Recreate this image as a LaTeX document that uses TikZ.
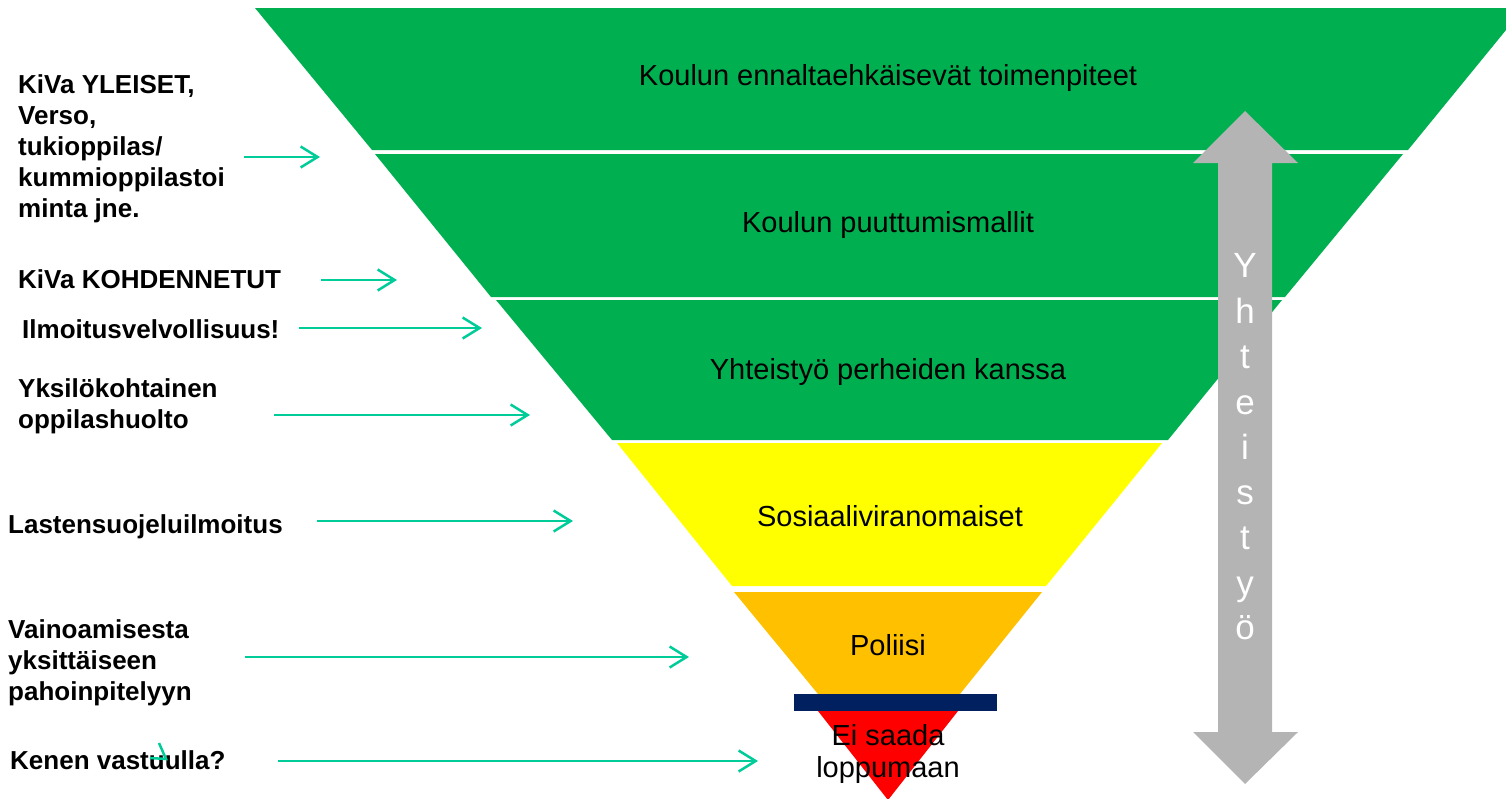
\documentclass[tikz,border=0pt]{standalone}
\usepackage{fontspec}
\setmainfont{Liberation Sans}
\usetikzlibrary{arrows.meta}
\definecolor{bandgreen}{RGB}{0,176,80}
\definecolor{bandyellow}{RGB}{255,255,0}
\definecolor{bandorange}{RGB}{255,192,0}
\definecolor{bandred}{RGB}{255,0,0}
\definecolor{barnavy}{RGB}{0,32,96}
\definecolor{arrgray}{RGB}{180,180,180}
\definecolor{arrteal}{RGB}{0,204,153}
\tikzset{
  bandtext/.style={font=\fontsize{29}{32}\selectfont, text=black, align=center, inner sep=0pt},
  sidetext/.style={font=\fontsize{26}{31}\bfseries\selectfont, text=black, align=left, anchor=west, inner sep=0pt},
  pointer/.style={draw=arrteal, line width=2.5pt, -{Straight Barb[length=17pt,width=21pt,line width=2.5pt]}},
  stray/.style={draw=arrteal, line width=2.5pt},
  vlet/.style={font=\fontsize{35}{36}\selectfont, text=white, inner sep=0pt}
}
\begin{document}
\begin{tikzpicture}[x=1pt,y=-1pt]
\useasboundingbox (0,0) rectangle (1506,798);
\begin{scope}
\clip (0,0) rectangle (1506,798);
% bands
\fill[bandgreen] (255,8) -- (1524,8) -- (1408,150) -- (372,150) -- cycle;
\fill[bandgreen] (375,154) -- (1403,154) -- (1285,297) -- (491,297) -- cycle;
\fill[bandgreen] (496,300) -- (1282,300) -- (1168,440) -- (612,440) -- cycle;
\fill[bandyellow] (617,443) -- (1162,443) -- (1046,586) -- (732,586) -- cycle;
\fill[bandorange] (734,592) -- (1042,592) -- (960,694) -- (818,694) -- cycle;
\fill[bandred] (818,711) -- (958,711) -- (888,800) -- cycle;
\fill[barnavy] (794,694) rectangle (997,711);
\end{scope}
% band labels
\node[bandtext] (b1) at (888,78) {Koulun ennaltaehkäisevät toimenpiteet};
\node[bandtext] (b2) at (888,225) {Koulun puuttumismallit};
\node[bandtext] (b3) at (888,372) {Yhteistyö perheiden kanssa};
\node[bandtext] (b4) at (890,516) {Sosiaaliviranomaiset};
\node[bandtext] (b5) at (888,645) {Poliisi};
\node[bandtext] (b6) at (888,754) {Ei saada\\loppumaan};
% vertical double arrow
\fill[arrgray] (1245,111) -- (1298,163) -- (1272,163) -- (1272,732) -- (1298,732)
  -- (1245,784) -- (1193,732) -- (1218,732) -- (1218,163) -- (1193,163) -- cycle;
\foreach \l/\yy in {Y/270,h/316,t/361,e/407,i/452,s/497,t/542,y/588,ö/632}{
  \node[vlet] at (1245,\yy) {\strut\l};
}
% side labels
\node[sidetext] (s1) at (18,149) {KiVa YLEISET,\\Verso,\\tukioppilas/\\kummioppilastoi\\minta jne.};
\node[sidetext] (s2) at (18,279) {KiVa KOHDENNETUT};
\node[sidetext] (s3) at (22,329) {Ilmoitusvelvollisuus!};
\node[sidetext] (s4) at (18,406) {Yksilökohtainen\\oppilashuolto};
\node[sidetext] (s5) at (8,527) {Lastensuojeluilmoitus};
\node[sidetext] (s6) at (8,663) {Vainoamisesta\\yksittäiseen\\pahoinpitelyyn};
\node[sidetext] (s7) at (10,760) {Kenen vastuulla?};
% arrows
\coordinate (a1s) at (244,157); \coordinate (a1e) at (320,157);
\coordinate (a2s) at (321,280); \coordinate (a2e) at (397,280);
\coordinate (a3s) at (299,328); \coordinate (a3e) at (482,328);
\coordinate (a4s) at (274,415); \coordinate (a4e) at (530,415);
\coordinate (a5s) at (317,521); \coordinate (a5e) at (573,521);
\coordinate (a6s) at (245,657); \coordinate (a6e) at (689,657);
\coordinate (a7s) at (278,761); \coordinate (a7e) at (758,761);
\draw[pointer] (a1s) -- (a1e);
\draw[pointer] (a2s) -- (a2e);
\draw[pointer] (a3s) -- (a3e);
\draw[pointer] (a4s) -- (a4e);
\draw[pointer] (a5s) -- (a5e);
\draw[pointer] (a6s) -- (a6e);
\draw[pointer] (a7s) -- (a7e);
% stray mark
\coordinate (m1) at (150,758); \coordinate (m2) at (166,759); \coordinate (m3) at (159,743);
\draw[stray] (m1) -- (m2) -- (m3);
\end{tikzpicture}
\end{document}
